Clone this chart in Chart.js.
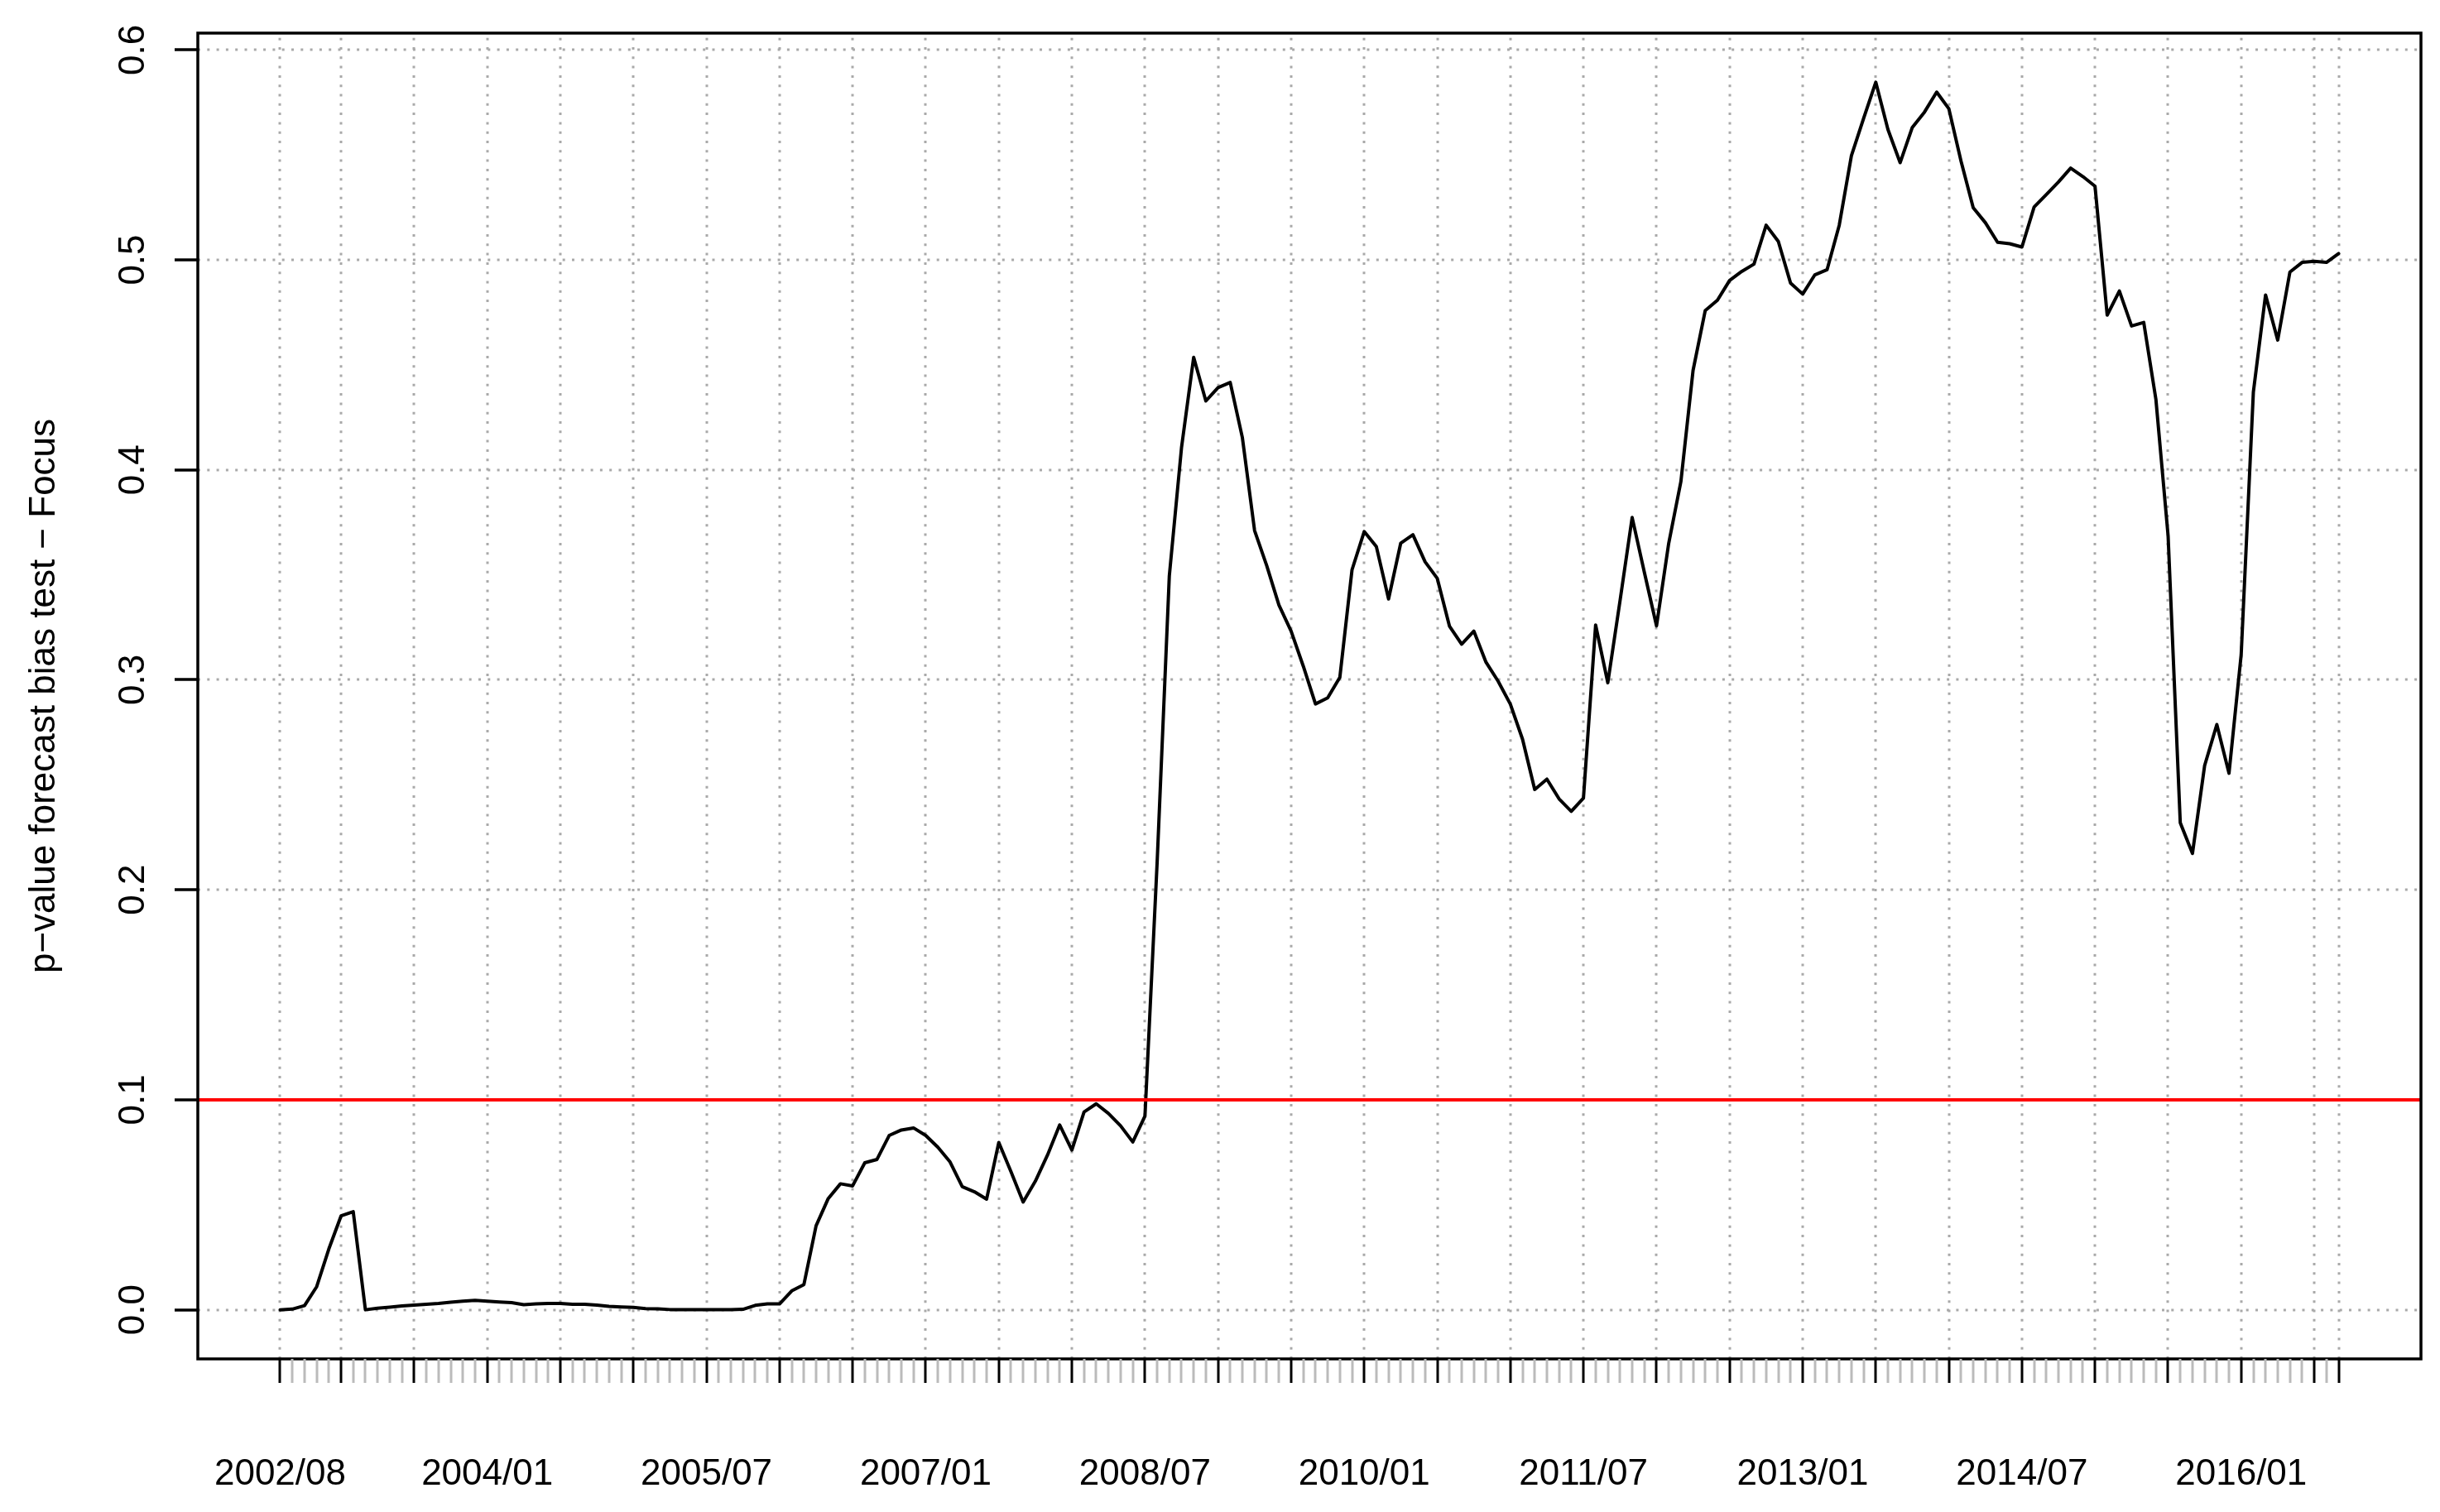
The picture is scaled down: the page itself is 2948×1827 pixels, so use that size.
<!DOCTYPE html>
<html><head><meta charset="utf-8">
<script src="https://cdn.jsdelivr.net/npm/chart.js@4.4.1/dist/chart.umd.min.js"></script>
<style>html,body{margin:0;padding:0;background:#fff;}canvas{display:block;}</style>
</head><body>
<canvas id="c" width="2948" height="1827"></canvas>
<script>
// ---- data ----
const startYear = 2002, startMonth = 8; // first observation 2002/08, monthly
const pValues = [
 0.000,0.0003,0.002,0.011,0.029,0.0447,0.0467,0.000,0.0007,0.0012,
 0.0018,0.0022,0.0026,0.0030,0.0036,0.0041,0.0045,0.0041,0.0037,0.0034,
 0.0024,0.0028,0.0030,0.0030,0.0026,0.0026,0.0022,0.0016,0.0013,0.0011,
 0.0005,0.0004,0.0001,0.0001,0.0001,0.0001,0.0001,0.0001,0.0002,0.0021,
 0.0028,0.0028,0.009,0.012,0.040,0.053,0.060,0.059,0.070,0.0716,
 0.083,0.0856,0.0866,0.083,0.0774,0.0704,0.0586,0.0562,0.0527,0.0797,
 0.0658,0.0513,0.0612,0.0737,0.0880,0.0761,0.0942,0.0981,0.0935,0.0876,
 0.0799,0.0922,0.213,0.3495,0.4105,0.4536,0.4328,0.4392,0.4416,0.4153,
 0.3711,0.3543,0.3356,0.3232,0.3065,0.2885,0.2914,0.3012,0.3524,0.3706,
 0.3634,0.3385,0.3651,0.3691,0.3562,0.3483,0.3256,0.3170,0.3232,0.3084,
 0.2993,0.2884,0.2717,0.2478,0.2527,0.2433,0.2374,0.2437,0.3261,0.2986,
 0.3375,0.3773,0.3512,0.3257,0.3650,0.3944,0.4474,0.4759,0.4808,0.4902,
 0.4945,0.4980,0.5165,0.5088,0.4890,0.4837,0.4929,0.4953,0.5165,0.5496,
 0.5674,0.5846,0.5621,0.5463,0.5631,0.5704,0.5799,0.5720,0.547,0.5248,
 0.5177,0.5084,0.5077,0.5061,0.5252,0.5311,0.5371,0.5437,0.5397,0.5351,
 0.4737,0.4852,0.4685,0.4702,0.4335,0.3686,0.2319,0.2173,0.2592,0.2787,
 0.2555,0.312,0.4370,0.4833,0.4618,0.4942,0.4988,0.4993,0.4988,0.5030
];
const months = pValues.map((_, i) => {
  const m = startMonth - 1 + i;
  return (startYear + Math.floor(m / 12)) + '/' + String(m % 12 + 1).padStart(2, '0');
});
const xTickLabels = ["2002/08","2004/01","2005/07","2007/01","2008/07","2010/01","2011/07","2013/01","2014/07","2016/01"];
const yTicks = [0, 0.1, 0.2, 0.3, 0.4, 0.5, 0.6];
const yTickLabels = ["0.0","0.1","0.2","0.3","0.4","0.5","0.6"];
const threshold = 0.1;
const yTitle = "p\u2212value forecast bias test \u2212 Focus";

// ---- derived ----
const n = pValues.length;
const xMin = -0.04 * (n - 1), xMax = (n - 1) * 1.04;
const yMin = -0.0234, yMax = 0.608;
const majorIdx = months.map((m, i) => i).filter(i => i === 0 || i === n - 1 || /\/(01|07)$/.test(months[i]));

const FONT = '"Liberation Sans", Arial, Helvetica, sans-serif';

const rPlot = {
  id: 'rPlot',
  beforeDatasetsDraw(chart) {
    const {ctx, chartArea: a, scales: {x, y}} = chart;
    ctx.save();
    ctx.strokeStyle = '#A9A9A9';
    ctx.lineWidth = 3;
    ctx.setLineDash([3, 8.3]);
    yTicks.forEach(v => {
      const py = Math.round(y.getPixelForValue(v));
      ctx.beginPath(); ctx.moveTo(a.left, py); ctx.lineTo(a.right, py); ctx.stroke();
    });
    majorIdx.forEach(i => {
      const px = Math.round(x.getPixelForValue(i));
      ctx.beginPath(); ctx.moveTo(px, a.bottom); ctx.lineTo(px, a.top); ctx.stroke();
    });
    ctx.restore();
  },
  afterDraw(chart) {
    const {ctx, chartArea: a, scales: {x, y}} = chart;
    ctx.save();
    // box
    ctx.strokeStyle = '#000';
    ctx.lineWidth = 3.5;
    ctx.strokeRect(a.left, a.top, a.right - a.left, a.bottom - a.top);
    // minor ticks
    ctx.lineWidth = 3;
    ctx.strokeStyle = '#BBBBBB';
    months.forEach((m, i) => {
      if (majorIdx.includes(i)) return;
      const px = Math.round(x.getPixelForValue(i));
      ctx.beginPath(); ctx.moveTo(px, a.bottom); ctx.lineTo(px, a.bottom + 29); ctx.stroke();
    });
    // major ticks
    ctx.strokeStyle = '#000';
    majorIdx.forEach(i => {
      const px = Math.round(x.getPixelForValue(i));
      ctx.beginPath(); ctx.moveTo(px, a.bottom); ctx.lineTo(px, a.bottom + 29); ctx.stroke();
    });
    // x labels
    ctx.fillStyle = '#000';
    ctx.font = '44px ' + FONT;
    ctx.textAlign = 'center';
    ctx.textBaseline = 'alphabetic';
    xTickLabels.forEach(lbl => {
      const i = months.indexOf(lbl);
      ctx.fillText(lbl, x.getPixelForValue(i), 1794);
    });
    // y ticks + labels
    ctx.lineWidth = 3.5;
    yTicks.forEach((v, k) => {
      const py = Math.round(y.getPixelForValue(v));
      ctx.beginPath(); ctx.moveTo(a.left, py); ctx.lineTo(a.left - 28, py); ctx.stroke();
      ctx.save();
      ctx.translate(174, y.getPixelForValue(v));
      ctx.rotate(-Math.PI / 2);
      ctx.textAlign = 'center';
      ctx.fillText(yTickLabels[k], 0, 0);
      ctx.restore();
    });
    // y title
    ctx.save();
    ctx.translate(66, (a.top + a.bottom) / 2);
    ctx.rotate(-Math.PI / 2);
    ctx.textAlign = 'center';
    ctx.fillText(yTitle, 0, 0);
    ctx.restore();
    ctx.restore();
  }
};

new Chart(document.getElementById('c').getContext('2d'), {
  type: 'line',
  data: {
    datasets: [
      {
        label: 'threshold',
        data: [{x: xMin, y: threshold}, {x: xMax, y: threshold}],
        borderColor: '#FF0000', borderWidth: 4, pointRadius: 0, order: 0
      },
      {
        label: 'p-value',
        data: pValues.map((v, i) => ({x: i, y: v})),
        borderColor: '#000000', borderWidth: 4, pointRadius: 0, tension: 0,
        borderJoinStyle: 'round', borderCapStyle: 'round', order: 1
      }
    ]
  },
  options: {
    responsive: false,
    animation: false,
    events: [],
    layout: {padding: {left: 239, top: 40, right: 23, bottom: 185}},
    plugins: {legend: {display: false}, tooltip: {enabled: false}},
    scales: {
      x: {type: 'linear', min: xMin, max: xMax, display: false},
      y: {type: 'linear', min: yMin, max: yMax, display: false}
    }
  },
  plugins: [rPlot]
});
</script>
</body></html>
